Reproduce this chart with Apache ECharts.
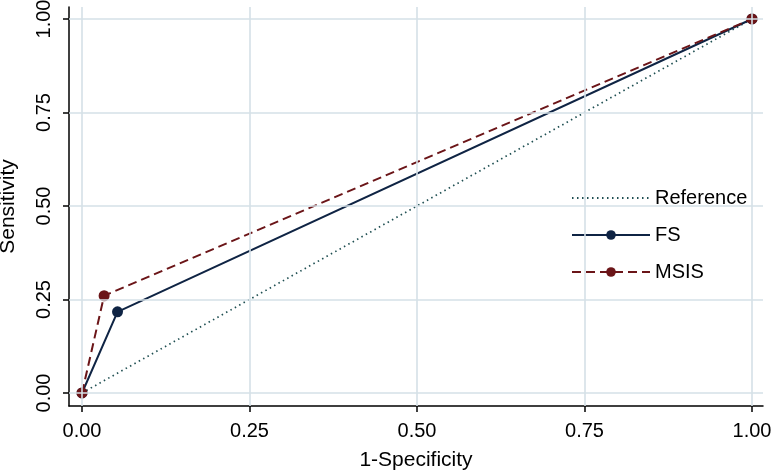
<!DOCTYPE html>
<html><head><meta charset="utf-8">
<script src="https://cdn.jsdelivr.net/npm/echarts@6/dist/echarts.min.js"></script>
<style>html,body{margin:0;padding:0;background:#fff}#c{width:773px;height:472px}</style>
</head><body><div id="c"></div>
<script>
const ticks = [0, 0.25, 0.5, 0.75, 1];
const refX = [0, 1];
const refY = [0, 1];
const fsX = [0, 0.053, 1];
const fsY = [0, 0.217, 1];
const msisX = [0, 0.033, 1];
const msisY = [0, 0.260, 1];
const seriesNames = ['Reference', 'FS', 'MSIS'];

const pairs = (xs, ys) => xs.map((x, i) => [x, ys[i]]);
const font = 'Liberation Sans, Arial, sans-serif';
const gridColor = '#d5e0e7';

const chart = echarts.init(document.getElementById('c'), null, {renderer: 'canvas'});
chart.setOption({
  animation: false,
  backgroundColor: '#fff',
  grid: {left: 69, right: 10, top: 7, bottom: 66, containLabel: false, outerBoundsMode: 'none'},
  xAxis: {
    type: 'value', min: -0.0194, max: 1.0164,
    name: '1-Specificity', nameLocation: 'middle', nameGap: 44,
    nameTextStyle: {color: '#000', fontSize: 21, fontFamily: font},
    axisLine: {show: true, onZero: false, lineStyle: {color: '#000', width: 1.5}},
    axisTick: {show: true, length: 6, customValues: ticks, lineStyle: {color: '#000', width: 1.5}},
    axisLabel: {customValues: ticks, formatter: v => v.toFixed(2), color: '#000', fontSize: 20, fontFamily: font, margin: 15},
    splitLine: {show: false}
  },
  yAxis: {
    type: 'value', min: -0.0348, max: 1.032,
    name: 'Sensitivity', nameLocation: 'middle', nameGap: 50,
    nameTextStyle: {color: '#000', fontSize: 21, fontFamily: font},
    axisLine: {show: true, onZero: false, lineStyle: {color: '#000', width: 1.5}},
    axisTick: {show: true, length: 6, customValues: ticks, lineStyle: {color: '#000', width: 1.5}},
    axisLabel: {customValues: ticks, rotate: 90, formatter: v => v.toFixed(2), color: '#000', fontSize: 20, fontFamily: font, margin: 15},
    splitLine: {show: false}
  },
  legend: {
    orient: 'vertical', left: 566, top: 183,
    data: [
      {name: seriesNames[0], itemStyle: {opacity: 0, borderWidth: 0}},
      seriesNames[1],
      seriesNames[2]
    ],
    itemWidth: 78, itemHeight: 12, itemGap: 17,
    textStyle: {color: '#000', fontSize: 20, fontFamily: font}
  },
  series: [
    {
      type: 'line', name: '_grid', data: [], silent: true, z: 0,
      markLine: {
        silent: true, symbol: 'none', label: {show: false},
        lineStyle: {color: gridColor, width: 1.6, type: 'solid'},
        data: ticks.map(t => ({xAxis: t})).concat(ticks.map(t => ({yAxis: t})))
      }
    },
    {
      type: 'line', name: seriesNames[0], data: pairs(refX, refY), showSymbol: false, symbol: 'none',
      lineStyle: {color: '#1f4f52', width: 1.7, type: [1.5, 3.5]}, itemStyle: {color: '#1f4f52'}, z: 2
    },
    {
      type: 'line', name: seriesNames[1], data: pairs(fsX, fsY), symbol: 'circle', symbolSize: 11,
      lineStyle: {color: '#0f2444', width: 2}, itemStyle: {color: '#0f2444'}, z: 3
    },
    {
      type: 'line', name: seriesNames[2], data: pairs(msisX, msisY), symbol: 'circle', symbolSize: 11,
      lineStyle: {color: '#6b1518', width: 2, type: [9, 5]}, itemStyle: {color: '#6b1518'}, z: 4
    }
  ]
});
</script></body></html>
